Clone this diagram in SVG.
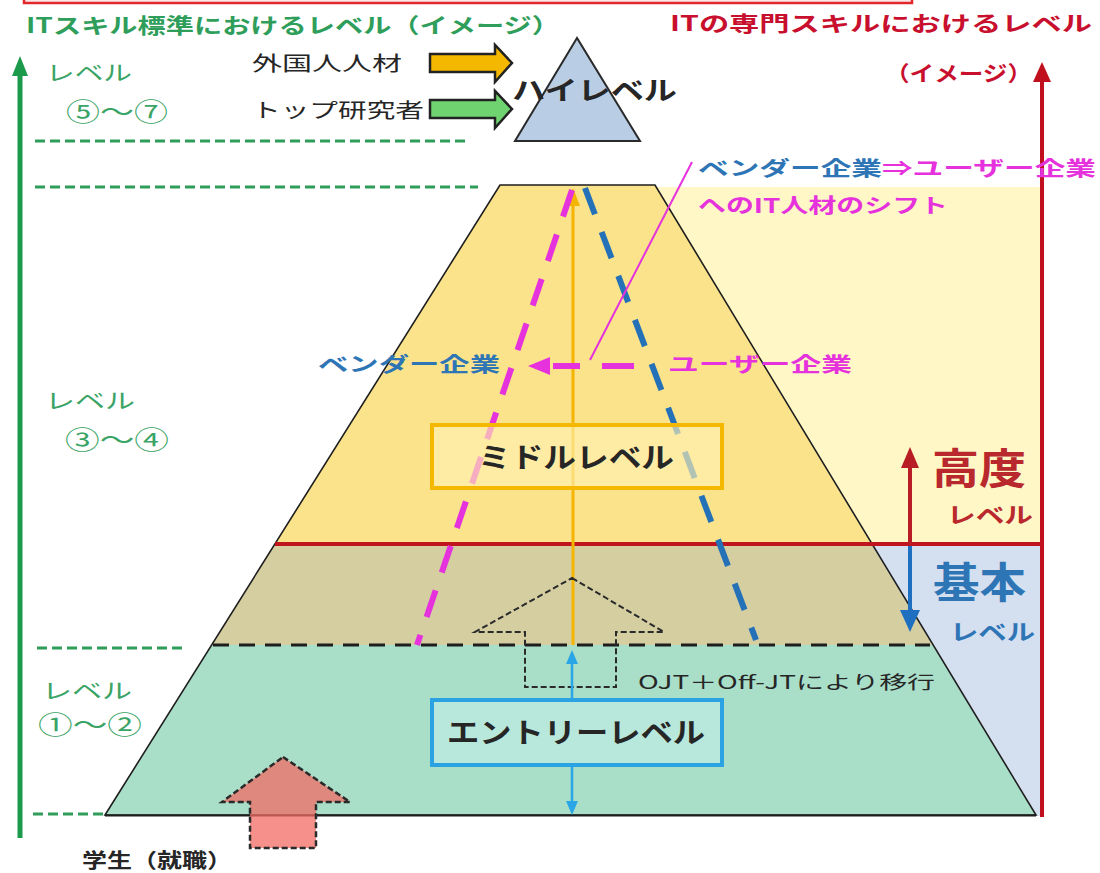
<svg xmlns="http://www.w3.org/2000/svg" width="1100" height="873" viewBox="0 0 1100 873">
<defs>
<style>
text { font-family: "Noto Sans CJK JP", "Noto Sans", sans-serif; }
.b { font-weight: bold; }
.green { fill: #2e9e5a; }
.lvl { fill: #3aa466; font-size: 21px; }
.num { fill: #3aa466; font-size: 25px; }
.red { fill: #c8102e; }
.blue { fill: #2e75b6; }
.mag { fill: #e632dc; }
.dark { fill: #262626; }
.gdash { stroke: #2e9e5a; stroke-width: 3; stroke-dasharray: 10 5; fill: none; }
.kdash { stroke: #1e1e1e; stroke-width: 3; stroke-dasharray: 16 10; fill: none; }
.thin-dash { stroke: #2a2a2a; stroke-width: 2; stroke-dasharray: 6 3; }
</style>
</defs>
<rect width="1100" height="873" fill="#ffffff"/>

<g id="background">
  <rect x="24" y="-30" width="888" height="33" fill="#fde6e6" stroke="#e0282d" stroke-width="2.5"/>
  <rect x="640" y="187" width="402" height="357" fill="#fff7c6"/>
  <rect x="850" y="544" width="192" height="272" fill="#d4dff0"/>
</g>

<g id="pyramid">
  <polygon points="500,185 655,185 871,544 275,544" fill="#fbe38c"/>
  <polygon points="275,544 871,544 932.5,645 211.6,645" fill="#d4cea1"/>
  <polygon points="211.6,645 932.5,645 1036,815 105,815" fill="#a9dec9"/>
  <polygon points="500,185 655,185 1036,815 105,815" fill="none" stroke="#1e1e1e" stroke-width="1.6"/>
  <line x1="105" y1="815.5" x2="1036" y2="815.5" stroke="#1e1e1e" stroke-width="2"/>
</g>

<g id="high-level">
  <polygon points="577,38 515,141 640,141" fill="#b9cde5" stroke="#2a2a2a" stroke-width="2"/>
</g>

<g id="student-arrow">
  <polygon points="283,757 350,802 316,802 316,848 250,848 250,802 222,802" fill="#f26b63" fill-opacity="0.75" stroke="#2a2a2a" stroke-width="2.5" stroke-dasharray="6 3"/>
</g>

<g id="connectors">
  <line class="gdash" x1="35" y1="141" x2="470" y2="141"/>
  <line class="gdash" x1="35" y1="187" x2="478" y2="187"/>
  <line class="gdash" x1="37" y1="648" x2="185" y2="648"/>
  <line class="gdash" x1="33" y1="814" x2="103" y2="814"/>
  <line class="kdash" x1="213" y1="645" x2="930" y2="645"/>
  <line x1="20" y1="838" x2="20" y2="72" stroke="#1a9a4a" stroke-width="5"/>
  <polygon points="20,56 12,76 28,76" fill="#1a9a4a"/>
  <line x1="1042" y1="817" x2="1042" y2="80" stroke="#c0101e" stroke-width="4"/>
  <polygon points="1042,62 1033,82 1051,82" fill="#c0101e"/>
  <line x1="275" y1="544" x2="1042" y2="544" stroke="#c0141e" stroke-width="4"/>
  <line x1="910" y1="544" x2="910" y2="466" stroke="#b81c24" stroke-width="4"/>
  <polygon points="910,447 901,468 919,468" fill="#b81c24"/>
  <line x1="910" y1="546" x2="910" y2="612" stroke="#1f6fc0" stroke-width="4"/>
  <polygon points="910,632 900,610 920,610" fill="#1f6fc0"/>
  <line x1="573" y1="645" x2="573" y2="204" stroke="#f5b400" stroke-width="3"/>
  <polygon points="573,188 566,206 580,206" fill="#f5b400"/>
  <line x1="572" y1="190" x2="417" y2="645" stroke="#e632dc" stroke-width="6" stroke-dasharray="28 19"/>
  <line x1="585" y1="188" x2="756" y2="640" stroke="#2471b8" stroke-width="6" stroke-dasharray="28 19"/>
  <line x1="692" y1="162" x2="590" y2="360" stroke="#e632dc" stroke-width="2"/>
  <polygon points="528,366 550,357 550,375" fill="#e632dc"/>
  <line x1="553" y1="366" x2="580" y2="366" stroke="#e632dc" stroke-width="6"/>
  <line x1="602" y1="366" x2="634" y2="366" stroke="#e632dc" stroke-width="6"/>
  <polygon class="thin-dash" fill="none" points="572,578 664,632 616,632 616,687 525,687 525,632 475,632"/>
  <line x1="572" y1="662" x2="572" y2="702" stroke="#2aa6e6" stroke-width="2.5"/>
  <polygon points="572,650 566,664 578,664" fill="#2aa6e6"/>
  <line x1="572" y1="763" x2="572" y2="803" stroke="#2aa6e6" stroke-width="2.5"/>
  <polygon points="572,815 566,801 578,801" fill="#2aa6e6"/>
  <polygon points="430,54 495,54 495,45 512,63 495,82 495,72 430,72" fill="#f5b800" stroke="#222" stroke-width="2.5"/>
  <polygon points="430,100 495,100 495,91 512,109 495,128 495,118 430,118" fill="#6fd46f" stroke="#222" stroke-width="2.5"/>
</g>

<g id="middle-level">
  <rect x="432" y="425" width="290" height="63" fill="#fff0b0" fill-opacity="0.65" stroke="#f5b800" stroke-width="4"/>
  <text class="b dark" x="478" y="468" font-size="28" textLength="196" lengthAdjust="spacingAndGlyphs">ミドルレベル</text>
</g>

<g id="entry-level">
  <rect x="432" y="700" width="290" height="65" fill="#bce8e0" fill-opacity="0.8" stroke="#2ba3e3" stroke-width="4"/>
  <text class="b dark" x="447" y="743" font-size="28" textLength="258" lengthAdjust="spacingAndGlyphs">エントリーレベル</text>
</g>

<g id="titles">
  <text class="b green" x="26" y="33" font-size="21" textLength="534" lengthAdjust="spacingAndGlyphs">ITスキル標準におけるレベル（イメージ）</text>
  <text class="b red" x="670" y="31" font-size="21" textLength="422" lengthAdjust="spacingAndGlyphs">ITの専門スキルにおけるレベル</text>
  <text class="b red" x="885" y="81" font-size="21" textLength="147" lengthAdjust="spacingAndGlyphs">（イメージ）</text>
</g>

<g id="high-level-label">
  <text class="b dark" x="512" y="100" font-size="26" textLength="165" lengthAdjust="spacingAndGlyphs">ハイレベル</text>
</g>

<g id="inflow-labels">
  <text class="dark" x="252" y="71" font-size="20" textLength="150" lengthAdjust="spacingAndGlyphs">外国人人材</text>
  <text class="dark" x="252" y="118" font-size="20" textLength="172" lengthAdjust="spacingAndGlyphs">トップ研究者</text>
</g>

<g id="level-labels">
  <text class="lvl" x="46" y="80" textLength="86" lengthAdjust="spacingAndGlyphs">レベル</text>
  <text class="num" x="66" y="121" textLength="102" lengthAdjust="spacingAndGlyphs">⑤～⑦</text>
  <text class="lvl" x="45" y="408" textLength="90" lengthAdjust="spacingAndGlyphs">レベル</text>
  <text class="num" x="65" y="449" textLength="104" lengthAdjust="spacingAndGlyphs">③～④</text>
  <text class="lvl" x="42" y="698" textLength="90" lengthAdjust="spacingAndGlyphs">レベル</text>
  <text class="num" x="38" y="734" textLength="104" lengthAdjust="spacingAndGlyphs">①～②</text>
</g>

<g id="shift-label">
  <text class="b" x="698" y="176" font-size="20" textLength="398" lengthAdjust="spacingAndGlyphs"><tspan class="blue">ベンダー企業</tspan><tspan class="mag">⇒ユーザー企業</tspan></text>
  <text class="b mag" x="698" y="213" font-size="20" textLength="250" lengthAdjust="spacingAndGlyphs">へのIT人材のシフト</text>
</g>

<g id="company-labels">
  <text class="b blue" x="318" y="372" font-size="20" textLength="182" lengthAdjust="spacingAndGlyphs">ベンダー企業</text>
  <text class="b mag" x="668" y="372" font-size="20" textLength="184" lengthAdjust="spacingAndGlyphs">ユーザー企業</text>
</g>

<g id="advanced-level">
  <text class="b" fill="#b8282d" x="932" y="484" font-size="42" textLength="94" lengthAdjust="spacingAndGlyphs">高度</text>
  <text class="b" fill="#b8282d" x="947" y="523" font-size="22" textLength="86" lengthAdjust="spacingAndGlyphs">レベル</text>
</g>

<g id="basic-level">
  <text class="b blue" x="933" y="598" font-size="42" textLength="93" lengthAdjust="spacingAndGlyphs">基本</text>
  <text class="b blue" x="950" y="640" font-size="22" textLength="85" lengthAdjust="spacingAndGlyphs">レベル</text>
</g>

<g id="ojt-label">
  <text class="dark" x="638" y="689" font-size="18" textLength="297" lengthAdjust="spacingAndGlyphs">OJT＋Off-JTにより移行</text>
</g>

<g id="student-label">
  <text class="b dark" x="82" y="868" font-size="20" textLength="150" lengthAdjust="spacingAndGlyphs">学生（就職）</text>
</g>
</svg>
